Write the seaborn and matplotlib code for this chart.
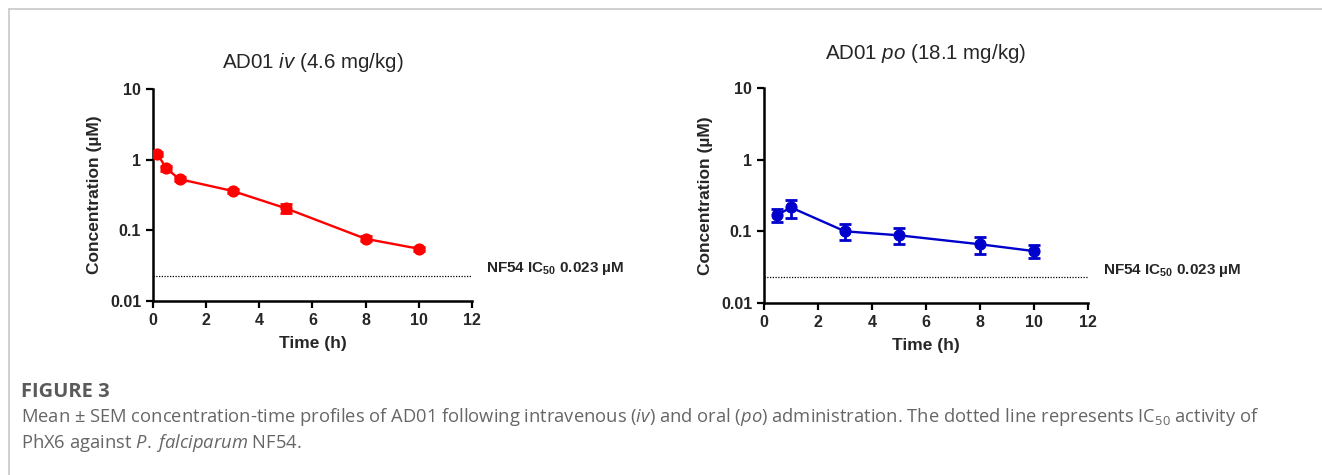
import numpy as np
import pandas as pd
import seaborn as sns
import matplotlib.pyplot as plt
from matplotlib.lines import Line2D
from matplotlib.ticker import FixedLocator, FixedFormatter, NullLocator

# Data (mean +/- SEM, uM)
iv_time = [0.17, 0.5, 1, 3, 5, 8, 10]
iv_conc = [1.2, 0.75, 0.53, 0.36, 0.205, 0.076, 0.055]
iv_sem = [0.08, 0.05, 0.03, 0.02, 0.03, 0.006, 0.004]

po_time = [0.5, 1, 3, 5, 8, 10]
po_conc = [0.17, 0.215, 0.10, 0.088, 0.066, 0.053]
po_sem = [0.035, 0.06, 0.025, 0.022, 0.017, 0.011]

ic50 = 0.023
y_ticks = [0.01, 0.1, 1, 10]
y_labels = ["0.01", "0.1", "1", "10"]
x_ticks = [0, 2, 4, 6, 8, 10, 12]

sns.set_style("ticks")
plt.rcParams['font.family'] = ['Liberation Sans', 'DejaVu Sans']
plt.rcParams['mathtext.fontset'] = 'custom'
plt.rcParams['mathtext.rm'] = 'Open Sans'
plt.rcParams['mathtext.it'] = 'Open Sans:italic'
plt.rcParams['mathtext.bf'] = 'Liberation Sans:bold'
plt.rcParams['mathtext.sf'] = 'Liberation Sans:italic'

fig = plt.figure(figsize=(13.22, 4.75), dpi=100)
ax1 = fig.add_axes([0.1157, 0.366, 0.2413, 0.447])
ax2 = fig.add_axes([0.5779, 0.362, 0.2451, 0.453])

panels = [
    (ax1, iv_time, iv_conc, iv_sem, "#ff0000", r"AD01 $\mathsf{iv}$ (4.6 mg/kg)", 15),
    (ax2, po_time, po_conc, po_sem, "#0000cc", r"AD01 $\mathsf{po}$ (18.1 mg/kg)", 21),
]

for ax, t, c, s, col, title, pad in panels:
    df = pd.DataFrame({"Time": t, "Conc": c})
    ax.errorbar(t, c, yerr=s, fmt="none", ecolor=col, elinewidth=2,
                capsize=4, capthick=2, zorder=3)
    sns.lineplot(data=df, x="Time", y="Conc", ax=ax, color=col, marker="o",
                 markersize=8, markeredgecolor=col, linewidth=1.7, zorder=4)
    ax.axhline(ic50, color="black", linestyle=(0, (1, 1.2)), linewidth=0.9)
    ax.set_yscale("log")
    ax.set_xlim(0, 12)
    ax.set_ylim(0.01, 10)
    ax.xaxis.set_major_locator(FixedLocator(x_ticks))
    ax.yaxis.set_major_locator(FixedLocator(y_ticks))
    ax.yaxis.set_major_formatter(FixedFormatter(y_labels))
    ax.yaxis.set_minor_locator(NullLocator())
    ax.set_xlabel("Time (h)", fontsize=12.5, fontweight="bold", labelpad=6)
    ax.set_ylabel("Concentration (µM)", fontsize=12.5, fontweight="bold", labelpad=6)
    ax.set_title(title, fontsize=14.8, pad=pad)
    ax.tick_params(axis="both", labelsize=11.5, width=1.6, length=5, color="black")
    for lab in ax.get_xticklabels() + ax.get_yticklabels():
        lab.set_fontweight("bold")
    for side in ["left", "bottom"]:
        ax.spines[side].set_linewidth(1.8)
        ax.spines[side].set_color("black")
    sns.despine(ax=ax)
    ax.text(1.045, ic50 * 1.25, r"NF54 IC$_{\mathbf{50}}$ 0.023 µM",
            transform=ax.get_yaxis_transform(), fontsize=11, fontweight="bold",
            va="center", ha="left", clip_on=False)

# page frame
fig.add_artist(Line2D([9 / 1322, 1], [1 - 9 / 475, 1 - 9 / 475],
                      transform=fig.transFigure, color="#c8c8c8", lw=1.2))
fig.add_artist(Line2D([9 / 1322, 9 / 1322], [0, 1 - 9 / 475],
                      transform=fig.transFigure, color="#c8c8c8", lw=1.2))

# caption
fig.text(21 / 1322, 1 - 392 / 475, "FIGURE 3", fontsize=14.5, fontweight="bold",
         family="Open Sans", color="#5a5a5a", va="center")
fig.text(21 / 1322, 1 - 417 / 475,
         r"Mean ± SEM concentration-time profiles of AD01 following intravenous ($\it{iv}$) "
         r"and oral ($\it{po}$) administration. The dotted line represents IC$_{50}$ activity of",
         fontsize=13.2, family="Open Sans", color="#666666", va="center")
fig.text(21 / 1322, 1 - 443 / 475,
         r"PhX6 against $\it{P.\;falciparum}$ NF54.",
         fontsize=13.2, family="Open Sans", color="#666666", va="center")

fig.savefig("out.png", dpi=100)
